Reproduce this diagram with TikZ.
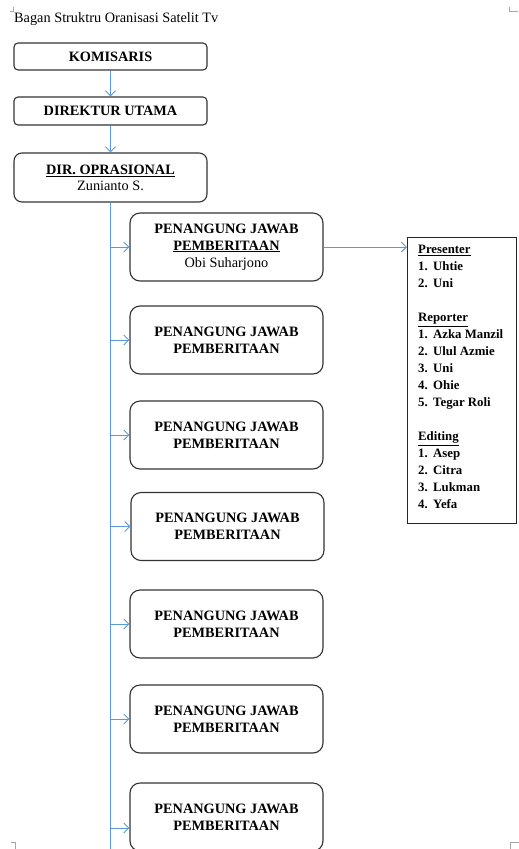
\documentclass[tikz,border=0pt]{standalone}
\usepackage{fontspec}
\setmainfont{Liberation Serif}
\usetikzlibrary{arrows.meta,positioning}
\definecolor{wordblue}{RGB}{91,155,213}

\tikzset{
  office/.style={draw=black!80, line width=1.1pt, fill=white, minimum width=193pt, inner sep=0pt, align=center, font=\fontsize{14.3}{17}\selectfont\bfseries},
  head/.style={office, rounded corners=4pt},
  desk/.style={office, rounded corners=10pt, minimum height=68pt},
  link/.style={draw=wordblue, line width=1pt, -{Straight Barb[length=5pt,width=10pt]}},
  spine/.style={draw=wordblue, line width=1pt},
  cropmark/.style={draw=black!35, line width=0.8pt},
}

\begin{document}
\begin{tikzpicture}[x=1pt, y=-1pt]
\clip (0,0) rectangle (519,849);
%page corners
\draw[cropmark] (10,11) -- (13,11) -- (13,7);
\draw[cropmark] (509,7) -- (509,11) -- (518,11);
\draw[cropmark] (11,842) -- (15,842) -- (15,849);
\draw[cropmark] (510,849) -- (510,842) -- (519,842);

\node[anchor=base west, inner sep=0pt, font=\fontsize{14.3}{17}\selectfont](title) at (14,22){Bagan Struktru Oranisasi Satelit Tv};

\node[head, minimum height=27pt](komisaris) at (110.5,56.5){KOMISARIS};
\node[head, minimum height=28pt](direktur) at (110.5,111){DIREKTUR UTAMA};
\node[head, rounded corners=8pt, minimum height=49pt, font=\fontsize{14.3}{16}\selectfont\bfseries](dir) at (110.5,177.5){\underline{DIR. OPRASIONAL}\\\textmd{Zunianto S.}};
%path
\draw[link](komisaris)--(direktur);
\draw[link](direktur)--(dir);

%pemberitaan
\node[desk](pj1) at (226.5,247){PENANGUNG JAWAB\\\underline{PEMBERITAAN}\\\textmd{Obi Suharjono}};
\node[desk](pj2) at (226.5,340){PENANGUNG JAWAB\\PEMBERITAAN};
\node[desk](pj3) at (226.5,435){PENANGUNG JAWAB\\PEMBERITAAN};
\node[desk](pj4) at (227.5,526.5){PENANGUNG JAWAB\\PEMBERITAAN};
\node[desk](pj5) at (226.5,624){PENANGUNG JAWAB\\PEMBERITAAN};
\node[desk](pj6) at (226.5,719){PENANGUNG JAWAB\\PEMBERITAAN};
\node[desk](pj7) at (226.5,817){PENANGUNG JAWAB\\PEMBERITAAN};

\coordinate (spine end) at (110.5,851);
\coordinate (pj7 in) at ([yshift=-11pt]pj7.west);
\draw[spine](dir.south)--(spine end);
\draw[link](dir.south |- pj1.west)--(pj1.west);
\draw[link](dir.south |- pj2.west)--(pj2.west);
\draw[link](dir.south |- pj3.west)--(pj3.west);
\draw[link](dir.south |- pj4.west)--(pj4.west);
\draw[link](dir.south |- pj5.west)--(pj5.west);
\draw[link](dir.south |- pj6.west)--(pj6.west);
\draw[link](dir.south |- pj7 in)--(pj7 in);

%crew
\node[draw=black!85, line width=1pt, minimum width=109pt, minimum height=286pt, inner sep=0pt, anchor=north west](crew) at (407,237){};
\node[anchor=north west, align=left, inner sep=0pt, font=\fontsize{12.8}{17}\selectfont\bfseries](crewlist) at ([shift={(11pt,-8pt)}]crew.north west){%
\underline{Presenter}\\
\makebox[15pt][l]{1.}Uhtie\\
\makebox[15pt][l]{2.}Uni\\[17pt]
\underline{Reporter}\\
\makebox[15pt][l]{1.}Azka Manzil\\
\makebox[15pt][l]{2.}Ulul Azmie\\
\makebox[15pt][l]{3.}Uni\\
\makebox[15pt][l]{4.}Ohie\\
\makebox[15pt][l]{5.}Tegar Roli\\[17pt]
\underline{Editing}\\
\makebox[15pt][l]{1.}Asep\\
\makebox[15pt][l]{2.}Citra\\
\makebox[15pt][l]{3.}Lukman\\
\makebox[15pt][l]{4.}Yefa};
\draw[link](pj1.east)--(pj1.east -| crew.west);
\end{tikzpicture}
\end{document}
